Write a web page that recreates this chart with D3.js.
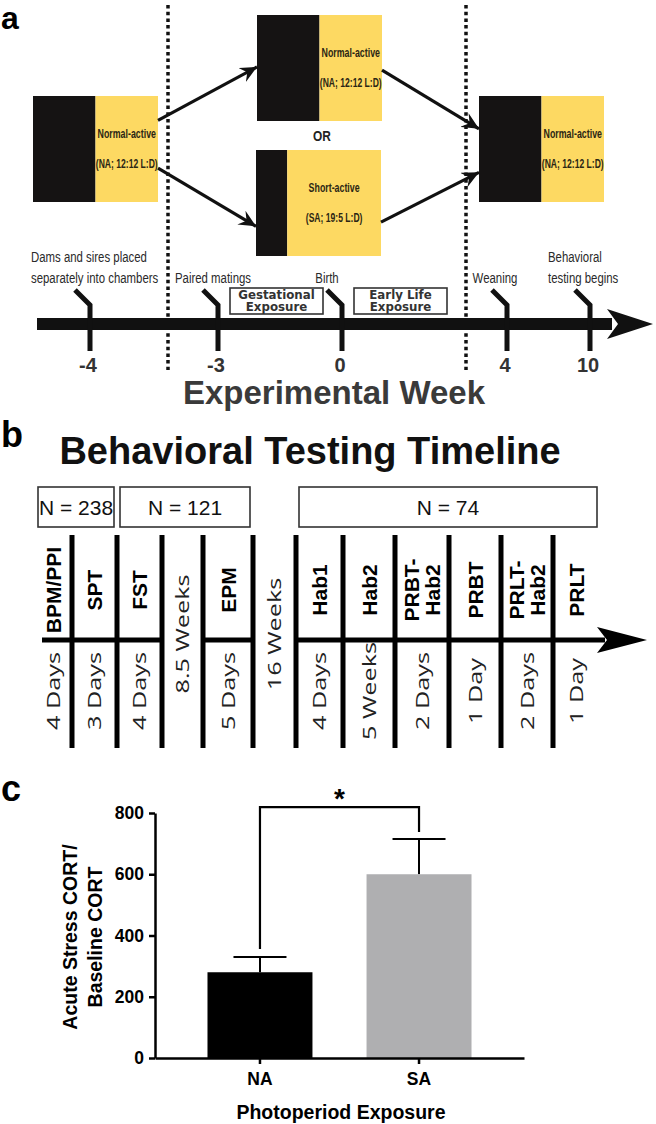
<!DOCTYPE html>
<html><head><meta charset="utf-8">
<script src="https://cdn.jsdelivr.net/npm/d3@7"></script>
<style>body{margin:0;background:#fff} svg{display:block}</style>
</head><body>
<script>
// ---------------- data ----------------
// panel a
const photoperiods = ["Normal-active", "Normal-active", "Short-active", "Normal-active"];
const photoCodes = ["(NA; 12:12 L:D)", "(NA; 12:12 L:D)", "(SA; 19:5 L:D)", "(NA; 12:12 L:D)"];
const darkShare = [0.5, 0.5, 0.25, 0.5];
const weeks = [-4, -3, 0, 4, 10];
const weekLabels = ["-4", "-3", "0", "4", "10"];
const weekEvents = [["Dams and sires placed", "separately into chambers"], ["Paired matings"], ["Birth"], ["Weaning"], ["Behavioral", "testing begins"]];
const exposures = [["Gestational", "Exposure"], ["Early Life", "Exposure"]];
const exposureStart = [-3, 0];
// panel b
const tests = ["BPM/PPI", "SPT", "FST", "", "EPM", "", "Hab1", "Hab2", "PRBT-|Hab2", "PRBT", "PRLT-|Hab2", "PRLT"];
const durations = ["4 Days", "3 Days", "4 Days", "8.5 Weeks", "5 Days", "16 Weeks", "4 Days", "5 Weeks", "2 Days", "1 Day", "2 Days", "1 Day"];
const cohorts = ["N = 238", "N = 121", "N = 74"];
const cohortSpan = [[0, 2], [2, 5], [6, 12]];
// panel c
const groups = ["NA", "SA"];
const means = [280, 600];
const sems = [50, 115];
const yTicks = [0, 200, 400, 600, 800];

// ---------------- layout ----------------
const W = 656, H = 1124;
const ARIAL = "'Liberation Sans', Arial, sans-serif";
const svg = d3.select("body").append("svg").attr("width", W).attr("height", H);

const defs = svg.append("defs");
defs.append("marker").attr("id", "ah").attr("viewBox", "-17 -8 18 16")
  .attr("refX", 0).attr("refY", 0).attr("markerWidth", 18).attr("markerHeight", 16)
  .attr("markerUnits", "userSpaceOnUse").attr("orient", "auto")
  .append("path").attr("d", "M0,0 L-17,-8 L-11,0 L-17,8 Z").attr("fill", "#111");

function panelLetter(t, x, y, size) {
  svg.append("text").attr("x", x).attr("y", y).text(t)
    .attr("font-family", ARIAL).attr("font-weight", "bold").attr("font-size", size).attr("fill", "#000");
}
function narrow(g, x, y, str, size, weight, anchor, sx, fill) {
  return g.append("text").attr("transform", `translate(${x},${y}) scale(${sx},1)`)
    .attr("text-anchor", anchor).attr("font-family", ARIAL).attr("font-size", size)
    .attr("font-weight", weight).attr("fill", fill || "#222").text(str);
}

// ================= PANEL A =================
const ga = svg.append("g");
panelLetter("a", 1, 29, 32);

const boxW = 125, boxH = 106;
const boxPos = [[33, 96], [257, 15], [256, 150], [479, 96]];
const boxes = photoperiods.map((p, i) => ({ p, code: photoCodes[i], dark: darkShare[i], x: boxPos[i][0], y: boxPos[i][1] }));

// separators
const sepX = [boxes[0].x + boxW + 10, boxes[3].x - 13];
sepX.forEach(x => ga.append("line").attr("x1", x).attr("x2", x).attr("y1", 5).attr("y2", 370)
  .attr("stroke", "#111").attr("stroke-width", 3.5).attr("stroke-dasharray", "3.5,3.2"));

boxes.forEach(b => {
  const dw = boxW * b.dark;
  ga.append("rect").attr("x", b.x).attr("y", b.y).attr("width", dw).attr("height", boxH).attr("fill", "#151313");
  ga.append("rect").attr("x", b.x + dw).attr("y", b.y).attr("width", boxW - dw).attr("height", boxH).attr("fill", "#fdd962");
  const cx = b.x + dw + (boxW - dw) / 2;
  narrow(ga, cx, b.y + 42, b.p, 13, "bold", "middle", 0.68, "#2b2614");
  narrow(ga, cx, b.y + 72, b.code, 13, "bold", "middle", 0.66, "#2b2614");
});
narrow(ga, 322, 141, "OR", 14, "bold", "middle", 0.85, "#222");

// arrows between schedules
const links = [[0, 1, 0.23, 0.49], [0, 2, 0.68, 0.72], [1, 3, 0.52, 0.31], [2, 3, 0.68, 0.72]];
links.forEach(([s, t, fs, ft]) => {
  const a = boxes[s], b = boxes[t];
  ga.append("line").attr("x1", a.x + boxW).attr("y1", a.y + boxH * fs)
    .attr("x2", b.x).attr("y2", b.y + boxH * ft)
    .attr("stroke", "#111").attr("stroke-width", 3.2).attr("marker-end", "url(#ah)");
});

// timeline
const wx = d3.scaleLinear().domain(weeks).range([90, 218, 342, 507, 590]);
const tlY = 324;
ga.append("rect").attr("x", 37).attr("y", tlY - 6).attr("width", 575).attr("height", 12).attr("fill", "#111");
ga.append("path").attr("d", `M${wx(10) + 17},${tlY - 15} L${W - 3},${tlY} L${wx(10) + 17},${tlY + 15} L${wx(10) + 28},${tlY} Z`).attr("fill", "#111");

const evDx = [-59, -5, -15, -12, -42];
weeks.forEach((w, i) => {
  const x = wx(w);
  ga.append("path").attr("d", `M${x},351 L${x},305 L${x - 15},290`)
    .attr("fill", "none").attr("stroke", "#111").attr("stroke-width", 5);
  ga.append("text").attr("x", x - 2).attr("y", 372).attr("text-anchor", "middle")
    .attr("font-family", ARIAL).attr("font-weight", "bold").attr("font-size", 20).attr("fill", "#333").text(weekLabels[i]);
  const lines = weekEvents[i];
  const anchor = lines.length > 1 ? "start" : "middle";
  lines.forEach((l, j) => {
    const yy = 283 - (lines.length - 1 - j) * 21;
    narrow(ga, x + evDx[i], yy, l, 15, "normal", anchor, 0.76, "#2a2a2a");
  });
});

exposures.forEach((e, i) => {
  const x0 = wx(exposureStart[i]) + 12;
  ga.append("rect").attr("x", x0).attr("y", 288).attr("width", 93).attr("height", 26)
    .attr("fill", "#fff").attr("stroke", "#333").attr("stroke-width", 1.6);
  e.forEach((l, j) => ga.append("text").attr("x", x0 + 46.5).attr("y", 298.5 + j * 12.5)
    .attr("text-anchor", "middle").attr("font-family", "'DejaVu Sans', sans-serif").attr("font-weight", "bold")
    .attr("font-size", 11.8).attr("fill", "#333").text(l));
});

ga.append("text").attr("x", 334).attr("y", 404).attr("text-anchor", "middle")
  .attr("font-family", ARIAL).attr("font-weight", "bold").attr("font-size", 33).attr("fill", "#3a3a3a")
  .text("Experimental Week");

// ================= PANEL B =================
const gb = svg.append("g");
panelLetter("b", 1, 447, 36);
gb.append("text").attr("x", 310).attr("y", 464).attr("text-anchor", "middle")
  .attr("font-family", ARIAL).attr("font-weight", "bold").attr("font-size", 38).attr("fill", "#111")
  .text("Behavioral Testing Timeline");

const cx = d3.scaleLinear().domain(d3.range(13)).range([35, 72, 117, 162, 203, 253, 296, 343, 395, 449, 501, 553, 600]);
const colC = i => (cx(i) + cx(i + 1)) / 2;
const baseY = 640;

cohorts.forEach((c, i) => {
  const [a, b] = cohortSpan[i];
  const x0 = cx(a) + 3, x1 = cx(b) - 3;
  gb.append("rect").attr("x", x0).attr("y", 487).attr("width", x1 - x0).attr("height", 40)
    .attr("fill", "#fff").attr("stroke", "#333").attr("stroke-width", 1.6);
  gb.append("text").attr("x", (x0 + x1) / 2).attr("y", 515).attr("text-anchor", "middle")
    .attr("font-family", ARIAL).attr("font-size", 21).attr("fill", "#111").text(c);
});

// vertical separators
d3.range(1, 12).forEach(i => gb.append("line").attr("x1", cx(i)).attr("x2", cx(i))
  .attr("y1", 535).attr("y2", 748).attr("stroke", "#000").attr("stroke-width", 5));

// baseline segments (interrupted in gap columns)
let segStart = 42;
tests.forEach((t, i) => {
  if (t === "") {
    gb.append("line").attr("x1", segStart).attr("x2", cx(i)).attr("y1", baseY).attr("y2", baseY)
      .attr("stroke", "#000").attr("stroke-width", 5);
    segStart = cx(i + 1);
  }
});
gb.append("line").attr("x1", segStart).attr("x2", 605).attr("y1", baseY).attr("y2", baseY)
  .attr("stroke", "#000").attr("stroke-width", 5);
gb.append("path").attr("d", `M597,${baseY - 13} L${W - 9},${baseY} L597,${baseY + 13} L607,${baseY} Z`).attr("fill", "#000");

tests.forEach((t, i) => {
  if (!t) return;
  const parts = t.split("|");
  const g = gb.append("text").attr("transform", `translate(${colC(i)},590) rotate(-90)`)
    .attr("text-anchor", "middle").attr("font-family", ARIAL).attr("font-weight", "bold")
    .attr("font-size", 21).attr("fill", "#000");
  const off = parts.length === 1 ? 7.5 : -3;
  parts.forEach((p, j) => g.append("tspan").attr("x", 0).attr("y", off + j * 21).text(p));
});

durations.forEach((d, i) => {
  const cy = tests[i] === "" ? 634 : 691;
  gb.append("text").attr("transform", `translate(${colC(i)},${cy}) rotate(-90) scale(1.33,1)`)
    .attr("text-anchor", "middle").attr("y", 6.8).attr("font-family", "'Open Sans', sans-serif")
    .attr("font-size", 19).attr("fill", "#222").text(d);
});

// ================= PANEL C =================
const gc = svg.append("g");
panelLetter("c", 1, 801, 36);
const y = d3.scaleLinear().domain([0, 800]).range([1058, 813]);
const x = d3.scaleBand().domain(groups).range([155, 524]).paddingInner(0.34).paddingOuter(0.33);
const barColors = ["#000", "#afafb1"];

groups.forEach((g, i) => {
  const xc = x(g) + x.bandwidth() / 2;
  gc.append("line").attr("x1", xc).attr("x2", xc).attr("y1", y(means[i])).attr("y2", y(means[i] + sems[i]))
    .attr("stroke", "#000").attr("stroke-width", 2);
  gc.append("line").attr("x1", xc - 26.5).attr("x2", xc + 26.5).attr("y1", y(means[i] + sems[i])).attr("y2", y(means[i] + sems[i]))
    .attr("stroke", "#000").attr("stroke-width", 2);
  gc.append("rect").attr("x", x(g)).attr("y", y(means[i])).attr("width", x.bandwidth())
    .attr("height", y(0) - y(means[i])).attr("fill", barColors[i]);
});

const yAxis = gc.append("g").attr("transform", "translate(155,0)")
  .call(d3.axisLeft(y).tickValues(yTicks).tickSize(6).tickSizeOuter(0).tickPadding(5));
const xAxis = gc.append("g").attr("transform", "translate(0,1058)")
  .call(d3.axisBottom(x).tickSize(6).tickSizeOuter(0).tickPadding(9));
[yAxis, xAxis].forEach(a => {
  a.selectAll("path,line").attr("stroke", "#000").attr("stroke-width", 2.5);
  a.selectAll("text").attr("font-family", ARIAL).attr("font-weight", "bold").attr("font-size", 17.5).attr("fill", "#000");
});

// significance bracket
const topErr = d3.max(means.map((m, i) => m + sems[i]));
const brY = y(topErr) - 32;
const xa = x(groups[0]) + x.bandwidth() / 2, xb = x(groups[1]) + x.bandwidth() / 2;
gc.append("path").attr("d", `M${xa},${y(means[0] + sems[0]) - 8} L${xa},${brY} L${xb},${brY} L${xb},${y(means[1] + sems[1]) - 7}`)
  .attr("fill", "none").attr("stroke", "#000").attr("stroke-width", 2.2);
gc.append("text").attr("x", (xa + xb) / 2).attr("y", brY + 1).attr("text-anchor", "middle")
  .attr("font-family", ARIAL).attr("font-weight", "bold").attr("font-size", 28).text("*");

const yl = gc.append("text").attr("transform", "translate(77,937) rotate(-90)").attr("text-anchor", "middle")
  .attr("font-family", ARIAL).attr("font-weight", "bold").attr("font-size", 19.5).attr("fill", "#000");
yl.append("tspan").attr("x", 0).attr("y", 0).text("Acute Stress CORT/");
yl.append("tspan").attr("x", 0).attr("y", 25).text("Baseline CORT");

gc.append("text").attr("x", 341).attr("y", 1119).attr("text-anchor", "middle")
  .attr("font-family", ARIAL).attr("font-weight", "bold").attr("font-size", 19.5).attr("fill", "#000")
  .text("Photoperiod Exposure");
</script>
</body></html>
